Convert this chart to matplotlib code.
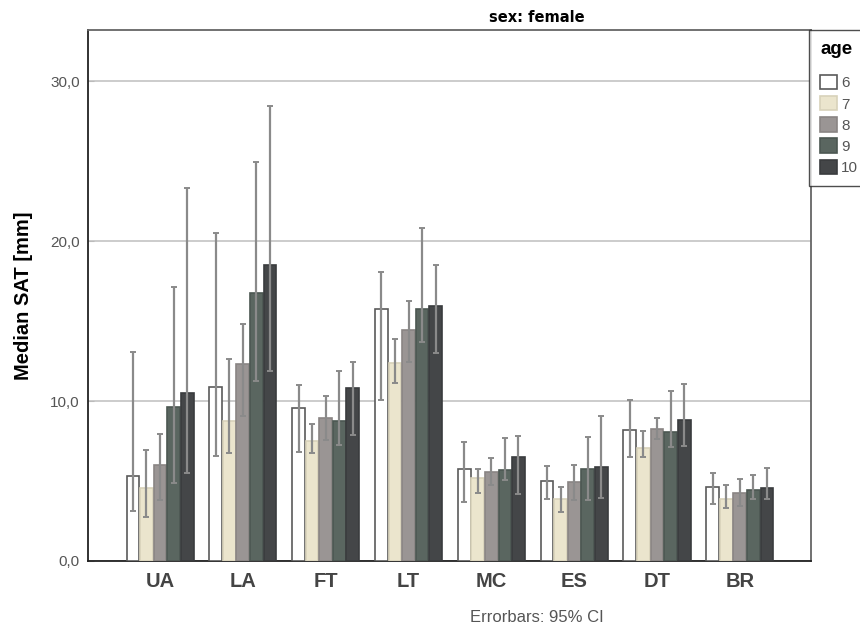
import matplotlib
matplotlib.use("Agg")
import matplotlib.pyplot as plt
import numpy as np

categories = ["UA", "LA", "FT", "LT", "MC", "ES", "DT", "BR"]
ages = ["6", "7", "8", "9", "10"]

medians = {
    "6":  [5.33, 10.85, 9.54, 15.75, 5.73, 5.00, 8.21, 4.60],
    "7":  [4.54, 8.73, 7.52, 12.35, 5.17, 3.88, 7.08, 3.85],
    "8":  [6.00, 12.30, 8.96, 14.46, 5.58, 4.92, 8.25, 4.27],
    "9":  [9.65, 16.77, 8.77, 15.77, 5.69, 5.77, 8.06, 4.46],
    "10": [10.48, 18.48, 10.79, 15.94, 6.48, 5.90, 8.83, 4.54],
}
ci_low = {
    "6":  [3.10, 6.58, 6.83, 10.06, 3.69, 3.85, 6.48, 3.54],
    "7":  [2.77, 6.77, 6.77, 11.10, 4.27, 3.04, 6.52, 3.31],
    "8":  [3.81, 9.06, 7.56, 12.44, 4.73, 3.81, 7.60, 3.46],
    "9":  [4.85, 11.27, 7.25, 13.71, 5.06, 3.81, 7.10, 3.85],
    "10": [5.48, 11.90, 7.88, 12.98, 4.21, 3.94, 7.19, 3.88],
}
ci_high = {
    "6":  [13.05, 20.50, 10.98, 18.06, 7.44, 5.92, 10.04, 5.48],
    "7":  [6.94, 12.60, 8.54, 13.88, 5.75, 4.63, 8.10, 4.75],
    "8":  [7.92, 14.83, 10.33, 16.25, 6.44, 5.98, 8.92, 5.13],
    "9":  [17.15, 24.96, 11.85, 20.79, 7.69, 7.77, 10.65, 5.38],
    "10": [23.30, 28.44, 12.44, 18.50, 7.81, 9.06, 11.04, 5.83],
}

colors = {"6": "#ffffff", "7": "#ebe5cd", "8": "#9a9594", "9": "#5a6660", "10": "#444648"}
edges = {"6": "#5a5a5a", "7": "#d8d2ba", "8": "#8a8584", "9": "#4c5752", "10": "#3a3c3e"}

plt.rcParams["font.family"] = ["Liberation Sans", "DejaVu Sans"]

fig = plt.figure(figsize=(8.6, 6.33), dpi=100)
ax = fig.add_axes([88/860, 1-561/633, (811-88)/860, (561-30)/633])

x = np.arange(len(categories))
w = 0.164
handles = []
for i, a in enumerate(ages):
    pos = x + (i - 2) * w
    m = np.array(medians[a])
    lo = m - np.array(ci_low[a])
    hi = np.array(ci_high[a]) - m
    b = ax.bar(pos, m, width=w * 0.94, color=colors[a], edgecolor=edges[a],
               linewidth=1.2, zorder=3, label=a)
    handles.append(b)
    ax.errorbar(pos, m, yerr=[lo, hi], fmt="none", ecolor="#8a8a8a",
                elinewidth=1.6, capsize=2.0, capthick=1.4, zorder=4)

ax.set_xlim(-0.87, 7.86)
ax.set_ylim(0, 33.2)
ax.set_yticks([0, 10, 20, 30])
ax.set_yticklabels(["0,0", "10,0", "20,0", "30,0"], color="#555555", fontsize=11)
ax.set_xticks(x)
ax.set_xticklabels(categories, fontsize=14.5, fontweight="bold", color="#444444")
ax.tick_params(axis="x", length=0, pad=8)
ax.tick_params(axis="y", length=4, color="#bbbbbb", direction="in", pad=6)
ax.yaxis.grid(True, color="#cccccc", linewidth=1.4, zorder=0)
ax.set_axisbelow(True)
for s in ["left", "bottom"]:
    ax.spines[s].set_color("#222222")
    ax.spines[s].set_linewidth(1.3)
for s in ["top", "right"]:
    ax.spines[s].set_color("#666666")
    ax.spines[s].set_linewidth(1.3)

ax.set_ylabel("Median SAT [mm]", fontsize=14.5, fontweight="bold", labelpad=12)
fig.text(537/860, 1-17/633, "sex: female", ha="center", va="center",
         fontsize=10.5, fontweight="bold", family="DejaVu Sans")
fig.text(537/860, 1-617/633, "Errorbars: 95% CI", ha="center", va="center",
         fontsize=12, color="#555555")

leg = fig.legend(handles=handles, labels=ages, loc="upper left",
                 bbox_to_anchor=(809/860, 1-30/633), title="age",
                 frameon=True, fancybox=False, edgecolor="#222222",
                 borderaxespad=0, handlelength=1.1, handleheight=1.05,
                 handletextpad=0.25, labelspacing=0.38, fontsize=11,
                 alignment="left", borderpad=0.75)
leg.get_title().set_fontweight("bold")
leg.get_title().set_fontsize(13.5)
leg._legend_box.sep = 12
for t in leg.get_texts():
    t.set_color("#555555")
leg.get_frame().set_linewidth(1.0)

fig.savefig("out.png", dpi=100)
